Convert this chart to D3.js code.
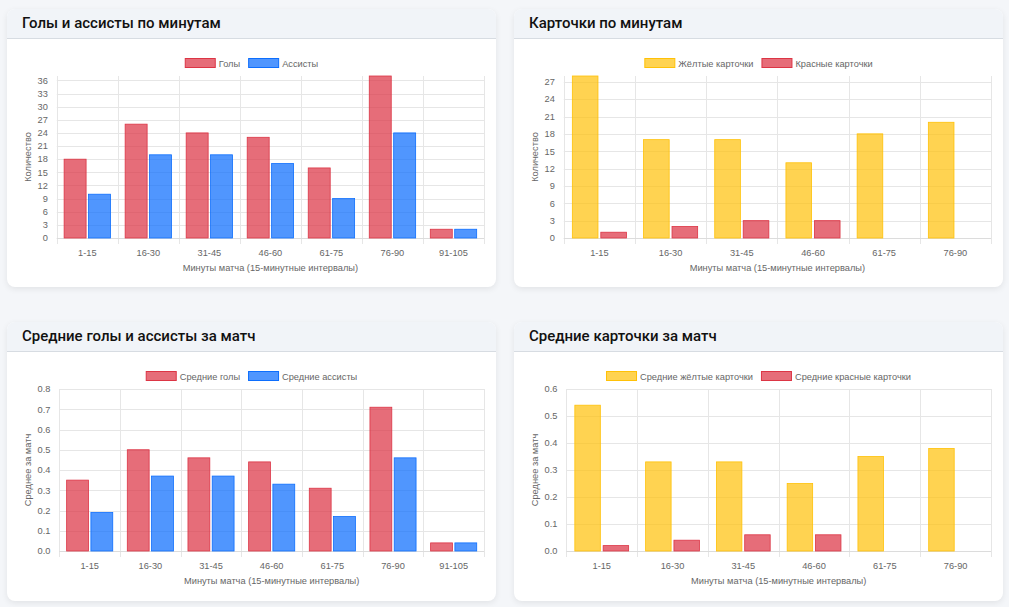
<!DOCTYPE html>
<html>
<head>
<meta charset="utf-8">
<script src="https://cdn.jsdelivr.net/npm/d3@7"></script>
<style>
  body { margin: 0; background: #f4f6f9; width: 1009px; height: 607px; overflow: hidden; }
  .card { position: absolute; width: 489px; background: #fff; border-radius: 8px;
          box-shadow: 0 2px 6px rgba(0,0,0,0.08); overflow: hidden; }
  .card-head { height: 29px; background: #f1f4f8; border-bottom: 1px solid #d7dce2;
               font-family: Roboto, sans-serif; font-weight: 500; font-size: 15px;
               color: #111; line-height: 29px; padding-left: 15px; }
  svg { display: block; }
  svg text { font-family: "Liberation Sans", Arial, sans-serif; font-size: 9.25px; fill: #666; }
</style>
</head>
<body>
<script>
// data
var minutes  = ['1-15', '16-30', '31-45', '46-60', '61-75', '76-90', '91-105'];
var minutes6 = ['1-15', '16-30', '31-45', '46-60', '61-75', '76-90'];

var goals   = [18, 26, 24, 23, 16, 37, 2];
var assists = [10, 19, 19, 17, 9, 24, 2];

var yellowCards = [28, 17, 17, 13, 18, 20];
var redCards    = [1, 2, 3, 3, 0, 0];

var avgGoals   = [0.35, 0.50, 0.46, 0.44, 0.31, 0.71, 0.04];
var avgAssists = [0.19, 0.37, 0.37, 0.33, 0.17, 0.46, 0.04];

var avgYellow = [0.54, 0.33, 0.33, 0.25, 0.35, 0.38];
var avgRed    = [0.02, 0.04, 0.06, 0.06, 0, 0];

var ticksCount = [0, 3, 6, 9, 12, 15, 18, 21, 24, 27, 30, 33, 36];
var ticksCards = [0, 3, 6, 9, 12, 15, 18, 21, 24, 27];
var ticksAvg8  = [0, 0.1, 0.2, 0.3, 0.4, 0.5, 0.6, 0.7, 0.8];
var ticksAvg6  = [0, 0.1, 0.2, 0.3, 0.4, 0.5, 0.6];

var RED    = { fill: 'rgba(220,53,69,0.72)', line: 'rgb(220,53,69)' };
var BLUE   = { fill: 'rgba(13,110,253,0.72)', line: 'rgb(13,110,253)' };
var YELLOW = { fill: 'rgba(255,193,7,0.7)', line: 'rgb(255,193,7)' };

var XTITLE = 'Минуты матча (15-минутные интервалы)';

function card(left, top, height, title) {
    var c = d3.select('body').append('div').attr('class', 'card')
        .style('left', left + 'px').style('top', top + 'px').style('height', height + 'px');
    c.append('div').attr('class', 'card-head').text(title);
    return c;
}

function barChart(c, opt) {
    var W = 489, H = 249;
    var svg = c.append('svg').attr('width', W).attr('height', H);

    var top = 37, bottom = 199, right = 477;

    // measure y tick labels to place the axis
    var fmt = opt.fmt || function (d) { return d; };
    var probe = svg.append('g');
    var maxw = 0;
    opt.ticks.forEach(function (t) {
        var n = probe.append('text').text(fmt(t)).node();
        maxw = Math.max(maxw, n.getComputedTextLength());
    });
    probe.remove();
    var left = 39.5 + maxw;

    var x = d3.scaleBand().domain(opt.cats).range([left, right]);
    var y = d3.scaleLinear().domain([0, opt.max]).range([bottom, top]);

    // grid
    var grid = svg.append('g');
    grid.selectAll('.hg').data(opt.ticks).enter().append('line')
        .attr('x1', left).attr('x2', right)
        .attr('y1', function (d) { return Math.round(y(d)) + 0.5; })
        .attr('y2', function (d) { return Math.round(y(d)) + 0.5; })
        .attr('stroke', '#e6e6e6');
    var bounds = opt.cats.map(function (d) { return x(d); }).concat([right]);
    grid.selectAll('.vg').data(bounds).enter().append('line')
        .attr('x1', function (d) { return Math.round(d) + 0.5; })
        .attr('x2', function (d) { return Math.round(d) + 0.5; })
        .attr('y1', top).attr('y2', bottom + 6)
        .attr('stroke', '#e6e6e6');
    svg.append('line').attr('x1', left).attr('x2', right)
        .attr('y1', Math.round(bottom) + 0.5).attr('y2', Math.round(bottom) + 0.5)
        .attr('stroke', '#dcdcdc');

    // bars: 80% of the band for the group, 90% of each slot for the bar
    var groupW = x.bandwidth() * 0.8;
    var slot = groupW / opt.series.length;
    opt.series.forEach(function (s, i) {
        svg.append('g').selectAll('rect').data(s.values).enter().append('rect')
            .attr('x', function (d, j) {
                return x(opt.cats[j]) + x.bandwidth() * 0.1 + slot * i + slot * 0.05;
            })
            .attr('width', slot * 0.9)
            .attr('y', function (d) { return y(d); })
            .attr('height', function (d) { return bottom - y(d); })
            .attr('fill', s.color.fill)
            .attr('stroke', function (d) { return d > 0 ? s.color.line : 'none'; })
            .attr('stroke-width', 0.8);
    });

    // y tick labels
    svg.append('g').selectAll('text').data(opt.ticks).enter().append('text')
        .attr('x', left - 9).attr('y', function (d) { return y(d) + 3.3; })
        .attr('text-anchor', 'end').text(fmt);

    // x tick labels
    svg.append('g').selectAll('text').data(opt.cats).enter().append('text')
        .attr('x', function (d) { return x(d) + x.bandwidth() / 2; })
        .attr('y', bottom + 17.5).attr('text-anchor', 'middle').text(function (d) { return d; });

    // axis titles
    svg.append('text').attr('x', (left + right) / 2).attr('y', bottom + 33)
        .attr('text-anchor', 'middle').text(XTITLE);
    svg.append('text')
        .attr('transform', 'translate(' + 23.5 + ',' + ((top + bottom) / 2) + ') rotate(-90)')
        .attr('text-anchor', 'middle').text(opt.ytitle);

    // legend, centred on the card
    var lg = svg.append('g');
    var cx = 0;
    opt.series.forEach(function (s, i) {
        var g = lg.append('g').attr('transform', 'translate(' + cx + ',0)');
        g.append('rect').attr('x', 0.5).attr('y', 19.5).attr('width', 30).attr('height', 9)
            .attr('fill', s.color.fill).attr('stroke', s.color.line).attr('stroke-width', 1);
        var t = g.append('text').attr('x', 34).attr('y', 27.5).text(s.name);
        cx += 34 + t.node().getComputedTextLength() + 8;
    });
    cx -= 8;
    lg.attr('transform', 'translate(' + ((W - cx) / 2) + ',0)');
}

var fmt1 = function (d) { return d.toFixed(1); };

barChart(card(7, 9, 278, 'Голы и ассисты по минутам'), {
    cats: minutes, max: 37, ticks: ticksCount, ytitle: 'Количество',
    series: [{ name: 'Голы', values: goals, color: RED },
             { name: 'Ассисты', values: assists, color: BLUE }]
});

barChart(card(514, 9, 278, 'Карточки по минутам'), {
    cats: minutes6, max: 28, ticks: ticksCards, ytitle: 'Количество',
    series: [{ name: 'Жёлтые карточки', values: yellowCards, color: YELLOW },
             { name: 'Красные карточки', values: redCards, color: RED }]
});

barChart(card(7, 322, 279, 'Средние голы и ассисты за матч'), {
    cats: minutes, max: 0.8, ticks: ticksAvg8, ytitle: 'Среднее за матч', fmt: fmt1,
    series: [{ name: 'Средние голы', values: avgGoals, color: RED },
             { name: 'Средние ассисты', values: avgAssists, color: BLUE }]
});

barChart(card(514, 322, 279, 'Средние карточки за матч'), {
    cats: minutes6, max: 0.6, ticks: ticksAvg6, ytitle: 'Среднее за матч', fmt: fmt1,
    series: [{ name: 'Средние жёлтые карточки', values: avgYellow, color: YELLOW },
             { name: 'Средние красные карточки', values: avgRed, color: RED }]
});
</script>
</body>
</html>
